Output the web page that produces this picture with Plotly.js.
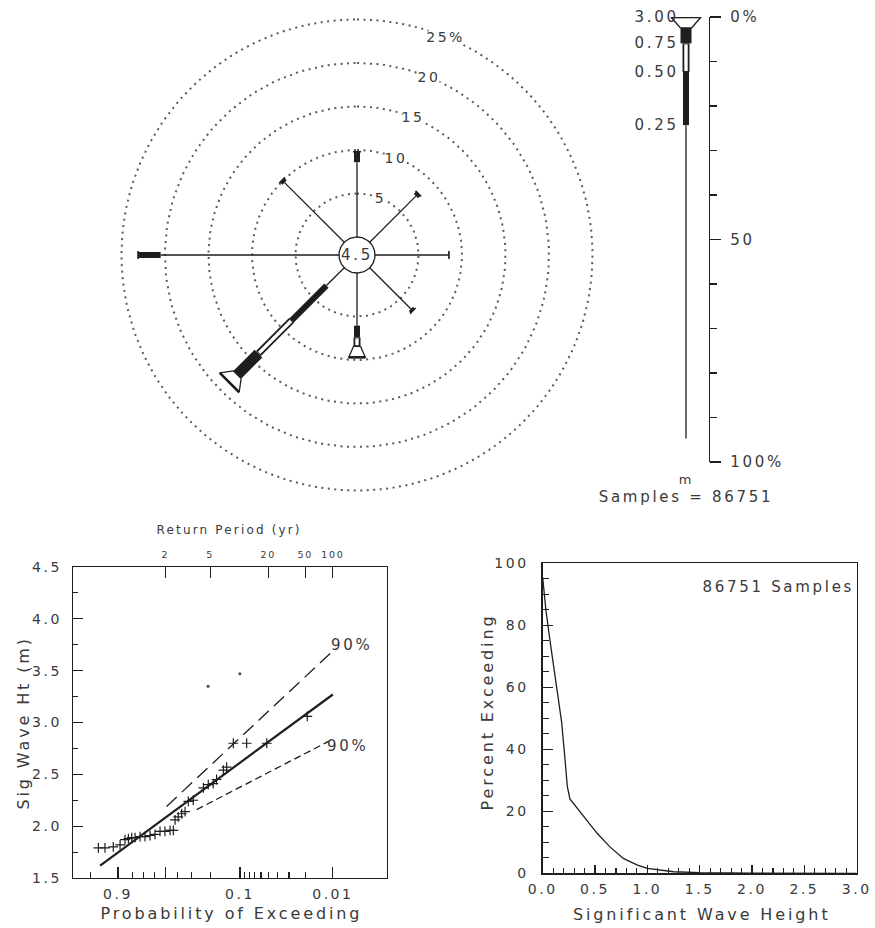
<!DOCTYPE html>
<html><head><meta charset="utf-8">
<script src="https://cdn.plot.ly/plotly-3.0.1.min.js"></script>
<style>
html,body{margin:0;padding:0;background:#fff;}
#chart{width:875px;height:928px;}
.js-plotly-plot text{letter-spacing:0.18em;}
</style></head><body><div id="chart"></div>
<script>
// ================= DATA =================
// Wave rose: percent of samples by approach direction and height class
const directions   = ['N','NE','E','SE','S','SW','W','NW'];
const directionDeg = [0, 45, 90, 135, 180, 225, 270, 315];
const heightClassTop = ['0.25','0.50','0.75','3.00'];       // m, upper edge of each class
const pctClass1 = [8.6, 7.5, 8.45, 6.7, 6.05, 2.9, 20.5, 9.7]; // 0.00-0.25 m
const pctClass2 = [1.2, 0.4, 0.05, 0.3, 1.35, 5.65, 2.6, 0.4]; // 0.25-0.50 m
const pctClass3 = [0, 0, 0, 0, 1.03, 5.4, 0, 0];               // 0.50-0.75 m
const pctClass4 = [0, 0, 0, 0, 0, 3.45, 0, 0];                 // 0.75-3.00 m
const calmPct = 4.5;
const ringPct = [5, 10, 15, 20, 25];
const sampleCount = 86751;
const scalePctTicks = [0, 50, 100];
const scalePctText  = ['0%', '50', '100%'];

// Extremal analysis (Gumbel paper)
const plotProb = [0.977,0.959,0.925,0.887,0.854,0.829,0.803,0.775,0.732,0.687,0.640,0.594,0.548,0.504,0.460,0.433,
                  0.419,0.394,0.368,0.344,0.322,0.290,0.233,0.209,0.187,0.173,0.148,0.137,0.117,0.085,0.052,0.019];
const plotHs   = [1.79,1.79,1.80,1.82,1.87,1.88,1.89,1.89,1.90,1.90,1.91,1.92,1.95,1.95,1.96,1.96,
                  2.06,2.09,2.12,2.14,2.24,2.25,2.37,2.40,2.41,2.45,2.54,2.57,2.80,2.80,2.80,3.06];
const outlierProb = [0.21, 0.10];
const outlierHs   = [3.35, 3.47];
const fitProb   = [0.973, 0.01];  const fitHs   = [1.62, 3.27];
const upperProb = [0.49, 0.01];   const upperHs = [2.19, 3.69];
const lowerProb = [0.27, 0.011];  const lowerHs = [2.16, 2.82];
const confLabel = '90%';
const probTicks = [0.9, 0.5, 0.1, 0.01];
const probTickText = ['0.9', '', '0.1', '0.01'];
const probMinor = [0.99,0.8,0.7,0.6,0.4,0.3,0.2,0.09,0.08,0.07,0.06,0.05,0.04,0.03,0.02];
const returnYears = [2, 5, 20, 50, 100];

// Percent exceedance
const hsGrid    = [0, 0.03, 0.07, 0.13, 0.18, 0.21, 0.235, 0.26, 0.42, 0.52, 0.64, 0.77, 0.90, 1.0, 1.25, 1.5, 2.0, 3.0];
const pctExceed = [95.5, 85, 75, 60, 49, 38, 28, 24, 17.2, 12.9, 8.6, 4.8, 2.7, 1.6, 0.5, 0.2, 0.05, 0];

// ================= GEOMETRY / STYLE =================
const W = 875, H = 928;
const fx = px => px / W;
const fy = py => 1 - py / H;
const INK = '#1e1e1e', TXT = '#3a3a3a', DOTC = '#5a5a5a';
const FONT = 'DejaVu Sans, Verdana, sans-serif';
const g = q => -Math.log(-Math.log(1 - q));   // Gumbel reduced variate of exceedance prob

const CX = 357, CY = 255, K = 8.7, HOLE = 18 / K;
const RB = {x0: 110, x1: 602, y0: 8, y1: 502};
const LB = {x0: 650, x1: 709, y0: 17, y1: 462};
const LEG_K = (LB.y1 - LB.y0) / 100;
const LEG_XPX = LB.x1 - LB.x0;
const BAR_X = (686 - LB.x0) / LEG_XPX;
const LABEL_X = (675 - LB.x0) / LEG_XPX;

const SEG_W = [1.3, 6, 7, 11];
const OPEN_INNER = 3.4;
const FLARE_PX = 11;

const traces = [];
const annotations = [];
const base = {type: 'scatter', mode: 'lines', hoverinfo: 'skip', showlegend: false};
const C = {xanchor: 'center', yanchor: 'middle', showarrow: false};

function addSpokes(spokes, unitPx, xa, ya) {
  const seg = [0,1,2,3].map(() => ({x: [], y: []}));
  const inner = {x: [], y: []}, caps = {x: [], y: []}, bigCaps = {x: [], y: []};
  const flares = [];
  spokes.forEach(sp => {
    let c = 0, last = 0; const ends = [];
    sp.bins.forEach((b, i) => {
      if (b > 0) {
        const p0 = sp.map(c, 0), p1 = sp.map(c + b, 0);
        seg[i].x.push(p0[0], p1[0], null); seg[i].y.push(p0[1], p1[1], null);
        if (i === 2) {
          const q0 = sp.map(c + 1 / unitPx, 0), q1 = sp.map(c + b - 1 / unitPx, 0);
          inner.x.push(q0[0], q1[0], null); inner.y.push(q0[1], q1[1], null);
        }
        c += b; last = i;
      }
      ends.push(c);
    });
    if (sp.bins[2] > 1) {
      const tip = c + FLARE_PX / unitPx;
      const capLen = 14 + 2.5 * sp.bins[2];
      const bh = SEG_W[last] / 2;
      flares.push([sp.map(c, -bh), sp.map(tip, -capLen / 2), sp.map(tip, capLen / 2), sp.map(c, bh), sp.map(c, -bh)]);
      const a = sp.map(tip, -capLen / 2), b = sp.map(tip, capLen / 2);
      bigCaps.x.push(a[0], b[0], null); bigCaps.y.push(a[1], b[1], null);
      sp.tip = tip;
    } else {
      const h = SEG_W[last] / 2 + 1;
      const a = sp.map(c, -h), b = sp.map(c, h);
      caps.x.push(a[0], b[0], null); caps.y.push(a[1], b[1], null);
      sp.tip = c;
    }
    sp.ends = ends;
  });
  seg.forEach((s, i) => traces.push({...base, x: s.x, y: s.y, xaxis: xa, yaxis: ya, line: {color: INK, width: SEG_W[i]}}));
  traces.push({...base, x: inner.x, y: inner.y, xaxis: xa, yaxis: ya, line: {color: '#fff', width: OPEN_INNER}});
  traces.push({...base, x: caps.x, y: caps.y, xaxis: xa, yaxis: ya, line: {color: INK, width: 1.6}});
  flares.forEach(pts => traces.push({...base, x: pts.map(p => p[0]), y: pts.map(p => p[1]), xaxis: xa, yaxis: ya,
    fill: 'toself', fillcolor: '#fff', line: {color: INK, width: 1.3}}));
  traces.push({...base, x: bigCaps.x, y: bigCaps.y, xaxis: xa, yaxis: ya, line: {color: INK, width: 2.6}});
}

// ---- rose rings ----
ringPct.forEach(p => {
  const xs = [], ys = [];
  for (let t = 0; t <= 360; t += 2) { const a = t * Math.PI / 180; xs.push((HOLE + p) * Math.sin(a)); ys.push((HOLE + p) * Math.cos(a)); }
  traces.push({...base, x: xs, y: ys, xaxis: 'x', yaxis: 'y', line: {color: DOTC, width: 2, dash: '2px,4.5px'}});
  const la = 22 * Math.PI / 180;
  annotations.push({...C, xref: 'x', yref: 'y', x: (HOLE + p) * Math.sin(la), y: (HOLE + p) * Math.cos(la),
    text: p === ringPct[ringPct.length - 1] ? p + '%' : String(p), bgcolor: '#fff', borderpad: 1,
    font: {size: 14, color: TXT}});
});
// calm circle
{
  const xs = [], ys = [];
  for (let t = 0; t <= 360; t += 4) { const a = t * Math.PI / 180; xs.push(HOLE * Math.sin(a)); ys.push(HOLE * Math.cos(a)); }
  traces.push({...base, x: xs, y: ys, xaxis: 'x', yaxis: 'y', line: {color: INK, width: 1.3}});
  annotations.push({...C, xref: 'x', yref: 'y', x: 0, y: 0, text: calmPct.toFixed(1), font: {size: 15, color: TXT}});
}
// spokes
const roseSpokes = directions.map((d, i) => {
  const a = directionDeg[i] * Math.PI / 180, s = Math.sin(a), co = Math.cos(a);
  return {bins: [pctClass1[i], pctClass2[i], pctClass3[i], pctClass4[i]],
          map: (c, off) => [(HOLE + c) * s + off / K * co, (HOLE + c) * co - off / K * s]};
});
addSpokes(roseSpokes, K, 'x', 'y');

// ---- legend bar (totals over all directions) ----
const sum = arr => arr.reduce((a, b) => a + b, 0);
const legBins = [sum(pctClass1), sum(pctClass2), sum(pctClass3), sum(pctClass4)];
const LEG_TOTAL = sum(legBins) + FLARE_PX / LEG_K;
const legSpoke = {bins: legBins, map: (c, off) => [BAR_X + off / LEG_XPX, LEG_TOTAL - c]};
addSpokes([legSpoke], LEG_K, 'x2', 'y2');
heightClassTop.forEach((lab, i) => {
  const yv = i === heightClassTop.length - 1 ? LEG_TOTAL - legSpoke.tip : LEG_TOTAL - legSpoke.ends[i];
  annotations.push({...C, xref: 'x2', yref: 'y2', x: LABEL_X, y: yv, xanchor: 'right', text: lab, font: {size: 15, color: TXT}});
});
annotations.push({...C, xref: 'paper', yref: 'paper', x: fx(686), y: fy(479), text: 'm', font: {size: 13, color: TXT}});
annotations.push({...C, xref: 'paper', yref: 'paper', x: fx(686), y: fy(497), text: 'Samples = ' + sampleCount, font: {size: 15, color: TXT}});

// ---- extremal plot ----
traces.push({...base, x: fitProb.map(g), y: fitHs, xaxis: 'x3', yaxis: 'y3', line: {color: INK, width: 2.2}});
traces.push({...base, x: upperProb.map(g), y: upperHs, xaxis: 'x3', yaxis: 'y3', line: {color: INK, width: 1.3, dash: '14px,7px'}});
traces.push({...base, x: lowerProb.map(g), y: lowerHs, xaxis: 'x3', yaxis: 'y3', line: {color: INK, width: 1.3, dash: '7px,4px'}});
traces.push({...base, mode: 'markers', x: plotProb.map(g), y: plotHs, xaxis: 'x3', yaxis: 'y3',
  marker: {symbol: 'cross-thin-open', size: 7, color: INK, line: {color: INK, width: 1.2}}});
traces.push({...base, mode: 'markers', x: outlierProb.map(g), y: outlierHs, xaxis: 'x3', yaxis: 'y3',
  marker: {symbol: 'circle', size: 3, color: '#444'}});
traces.push({...base, mode: 'markers', x: returnYears.map(T => g(1 / T)), y: returnYears.map(() => null), xaxis: 'x5', yaxis: 'y3', marker: {size: 1, opacity: 0}});
annotations.push({...C, xref: 'x3', yref: 'y3', x: g(upperProb[1]), y: upperHs[1], xanchor: 'left', yshift: 6, text: confLabel, font: {size: 15, color: TXT}});
annotations.push({...C, xref: 'x3', yref: 'y3', x: g(lowerProb[1]), y: lowerHs[1], xanchor: 'left', yshift: -5, text: confLabel, font: {size: 15, color: TXT}});

// ---- exceedance plot ----
traces.push({...base, x: hsGrid, y: pctExceed, xaxis: 'x4', yaxis: 'y4', line: {color: INK, width: 1.3}});
annotations.push({...C, xref: 'x4', yref: 'y4', x: 2.83, y: 92.5, xanchor: 'right', text: sampleCount + ' Samples', font: {size: 15, color: TXT}});

// ---- axis titles ----
const ttl = (x, y, text, size, angle) => annotations.push({...C, xref: 'paper', yref: 'paper', x: fx(x), y: fy(y), text,
  textangle: angle || 0, font: {size, color: TXT}});
ttl(23, 723, 'Sig Wave Ht (m)', 16, -90);
ttl(231, 913, 'Probability of Exceeding', 16);
ttl(229, 530, 'Return Period (yr)', 12);
ttl(487, 712, 'Percent Exceeding', 16, -90);
ttl(701, 914, 'Significant Wave Height', 16);

const ax = {showgrid: false, zeroline: false, showline: true, linecolor: INK, linewidth: 1.3, tickcolor: INK, tickwidth: 1.2, fixedrange: true};
const X3RANGE = [-1.97, 5.97];
const layout = {
  width: W, height: H, margin: {l: 0, r: 0, t: 0, b: 0}, paper_bgcolor: '#fff', plot_bgcolor: 'rgba(0,0,0,0)',
  showlegend: false, font: {family: FONT, color: TXT, size: 14}, annotations,
  xaxis: {domain: [fx(RB.x0), fx(RB.x1)], range: [(RB.x0 - CX) / K, (RB.x1 - CX) / K], visible: false, anchor: 'y'},
  yaxis: {domain: [fy(RB.y1), fy(RB.y0)], range: [(CY - RB.y1) / K, (CY - RB.y0) / K], visible: false, anchor: 'x'},
  xaxis2: {domain: [fx(LB.x0), fx(LB.x1)], range: [0, 1], visible: false, anchor: 'y2'},
  yaxis2: {...ax, domain: [fy(LB.y1), fy(LB.y0)], range: [100, 0], anchor: 'x2', side: 'right',
    tickmode: 'array', tickvals: scalePctTicks, ticktext: scalePctText, ticks: 'outside', ticklen: 11,
    minor: {tickmode: 'linear', tick0: 0, dtick: 10, ticks: 'outside', ticklen: 7, tickcolor: INK, tickwidth: 1.2},
    tickfont: {size: 15, color: TXT}, ticklabelstandoff: 6},
  xaxis3: {...ax, domain: [fx(73), fx(387)], range: X3RANGE, anchor: 'y3',
    tickmode: 'array', tickvals: probTicks.map(g), ticktext: probTickText, ticks: 'inside', ticklen: 11,
    minor: {tickmode: 'array', tickvals: probMinor.map(g), ticks: 'inside', ticklen: 6, tickcolor: INK, tickwidth: 1.1},
    tickfont: {size: 14, color: TXT}, ticklabelstandoff: 3},
  xaxis5: {...ax, overlaying: 'x3', anchor: 'y3', side: 'top', range: X3RANGE,
    tickmode: 'array', tickvals: returnYears.map(T => g(1 / T)), ticktext: returnYears.map(String), ticks: 'inside', ticklen: 11,
    tickfont: {size: 9.5, color: TXT}, ticklabelstandoff: 4},
  yaxis3: {...ax, domain: [fy(878), fy(567)], range: [1.5, 4.5], anchor: 'x3', mirror: true,
    tickmode: 'linear', tick0: 1.5, dtick: 0.5, tickformat: '.1f', ticks: 'inside', ticklen: 10,
    minor: {dtick: 0.25, ticks: 'inside', ticklen: 5, tickcolor: INK, tickwidth: 1.1},
    tickfont: {size: 14, color: TXT}, ticklabelstandoff: 7},
  xaxis4: {...ax, domain: [fx(542.7), fx(856.7)], range: [0, 3], anchor: 'y4', mirror: true,
    tickmode: 'linear', tick0: 0, dtick: 0.5, tickformat: '.1f', ticks: 'inside', ticklen: 8,
    minor: {dtick: 0.1, ticks: 'inside', ticklen: 5, tickcolor: INK, tickwidth: 1.1},
    tickfont: {size: 14, color: TXT}, ticklabelstandoff: 3},
  yaxis4: {...ax, domain: [fy(873.3), fy(563.3)], range: [0, 100], anchor: 'x4', mirror: true,
    tickmode: 'linear', tick0: 0, dtick: 20, ticks: 'inside', ticklen: 10,
    minor: {dtick: 5, ticks: 'inside', ticklen: 6, tickcolor: INK, tickwidth: 1.1},
    tickfont: {size: 14, color: TXT}, ticklabelstandoff: 10}
};
Plotly.newPlot('chart', traces, layout, {staticPlot: true, displayModeBar: false});
</script></body></html>
